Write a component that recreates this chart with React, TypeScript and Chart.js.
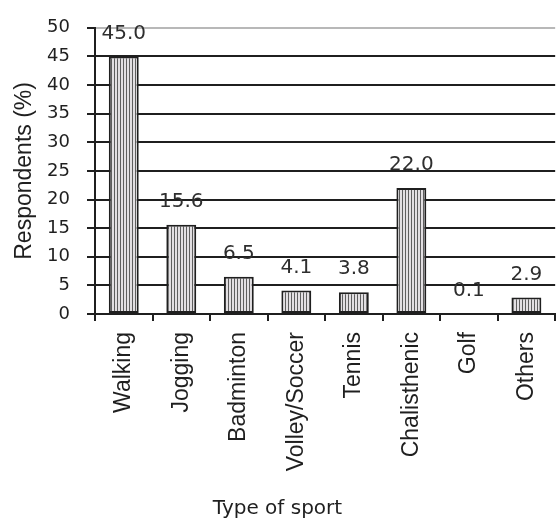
import React, { useEffect, useRef } from "react";
import { Chart, registerables } from "chart.js";

Chart.register(...registerables);

const categories = ["Walking", "Jogging", "Badminton", "Volley/Soccer", "Tennis", "Chalisthenic", "Golf", "Others"];
const respondents = [45.0, 15.6, 6.5, 4.1, 3.8, 22.0, 0.1, 2.9];
const yMin = 0;
const yMax = 50;
const yStep = 5;
const yAxisTitle = "Respondents (%)";
const xAxisTitle = "Type of sport";

const INK = "#1f1f1f";

function makePattern(): CanvasPattern | string {
  const c = document.createElement("canvas");
  c.width = 3;
  c.height = 4;
  const g = c.getContext("2d");
  if (!g) return "#bbb";
  g.fillStyle = "#e2dfe2";
  g.fillRect(0, 0, 3, 4);
  g.fillStyle = "#5e5e5e";
  g.fillRect(0, 0, 1, 4);
  return g.createPattern(c, "repeat") || "#bbb";
}

const valueLabels = {
  id: "valueLabels",
  afterDatasetsDraw(chart: any) {
    const ctx = chart.ctx;
    const meta = chart.getDatasetMeta(0);
    ctx.save();
    ctx.font = '20px "DejaVu Sans"';
    ctx.fillStyle = "#2e2e2e";
    ctx.textAlign = "center";
    ctx.textBaseline = "middle";
    meta.data.forEach((bar: any, i: number) => {
      const v = chart.data.datasets[0].data[i] as number;
      ctx.fillText(v.toFixed(1), bar.x, bar.y - 23);
    });
    ctx.restore();
  },
};

const xTitlePlugin = {
  id: "xTitlePlugin",
  afterDraw(chart: any) {
    const ctx = chart.ctx;
    ctx.save();
    ctx.font = '20px "DejaVu Sans"';
    ctx.fillStyle = INK;
    ctx.textAlign = "center";
    ctx.textBaseline = "alphabetic";
    ctx.fillText(xAxisTitle, 277.5, 514);
    ctx.restore();
  },
};

export default function App() {
  const ref = useRef<HTMLCanvasElement | null>(null);

  useEffect(() => {
    if (!ref.current) return;
    const pattern = makePattern();
    const chart = new Chart(ref.current, {
      type: "bar",
      data: {
        labels: categories,
        datasets: [
          {
            data: respondents,
            backgroundColor: pattern as any,
            borderColor: INK,
            borderWidth: 2,
            borderSkipped: false,
            categoryPercentage: 1,
            barPercentage: 0.52,
          },
        ],
      },
      options: {
        responsive: false,
        animation: false,
        devicePixelRatio: 1,
        layout: { padding: { top: 21, left: 0, right: 0, bottom: 0 } },
        plugins: {
          legend: { display: false },
          tooltip: { enabled: false },
          title: { display: false },
        },
        scales: {
          x: {
            offset: true,
            grid: {
              offset: true,
              drawOnChartArea: false,
              drawTicks: true,
              tickLength: 7,
              color: INK,
              lineWidth: 2,
            },
            border: { display: true, color: INK, width: 2 },
            ticks: {
              autoSkip: false,
              maxRotation: 90,
              minRotation: 90,
              padding: 11,
              color: INK,
              font: { family: '"Liberation Sans", Arial, sans-serif', size: 23 },
            },
            afterFit(scale: any) {
              scale.height = 206;
            },
          },
          y: {
            min: yMin,
            max: yMax,
            ticks: {
              stepSize: yStep,
              padding: 17,
              color: INK,
              font: { family: '"DejaVu Sans"', size: 18 },
              callback: (v: any) => String(v),
            },
            grid: {
              color: (c: any) => (c.tick && c.tick.value === yMax ? "#b8b8b8" : INK),
              tickColor: INK,
              lineWidth: 2,
              drawTicks: true,
              tickLength: 8,
            },
            border: { display: true, color: INK, width: 2 },
            title: {
              display: true,
              text: yAxisTitle,
              color: INK,
              font: { family: '"Liberation Sans", Arial, sans-serif', size: 23 },
              padding: { top: 11, bottom: 0 },
            },
            afterFit(scale: any) {
              scale.width = 95;
            },
          },
        },
      },
      plugins: [valueLabels, xTitlePlugin],
    });
    return () => chart.destroy();
  }, []);

  return (
    <div
      style={{
        position: "fixed",
        left: 0,
        top: 0,
        width: 557,
        height: 520,
        overflow: "hidden",
        background: "#fff",
      }}
    >
      <canvas ref={ref} width={565} height={520} style={{ display: "block" }} />
    </div>
  );
}
